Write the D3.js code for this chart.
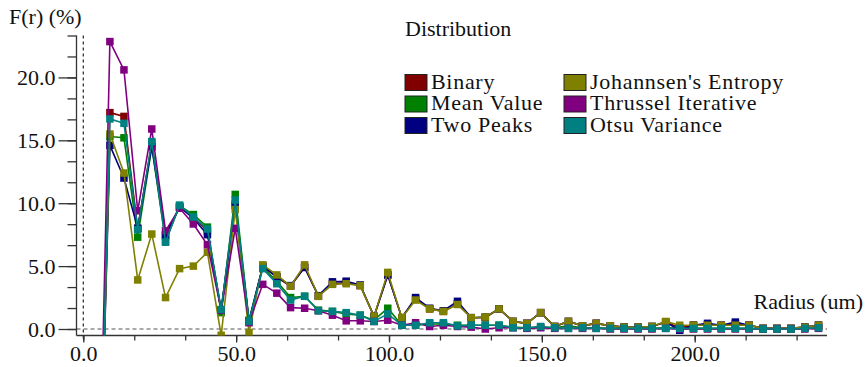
<!DOCTYPE html>
<html><head><meta charset="utf-8">
<script src="https://cdn.jsdelivr.net/npm/d3@7"></script>
<style>
html,body{margin:0;padding:0;background:#fff;}
svg{display:block;}
svg text{font-family:"Liberation Serif" !important;font-size:22px !important;}
</style></head>
<body>
<svg id="chart" width="866" height="367"></svg>
<script>
const radius = [4.2, 8.7, 13.3, 17.8, 22.4, 26.9, 31.5, 36.0, 40.6, 45.1, 49.7, 54.2, 58.7, 63.3, 67.8, 72.4, 76.9, 81.5, 86.0, 90.6, 95.1, 99.6, 104.2, 108.7, 113.3, 117.8, 122.4, 126.9, 131.5, 136.0, 140.6, 145.1, 149.6, 154.2, 158.7, 163.3, 167.8, 172.4, 176.9, 181.5, 186.0, 190.5, 195.1, 199.6, 204.2, 208.7, 213.3, 217.8, 222.4, 226.9, 231.5, 236.0, 240.5];

const binary = [-25, 17.2, 16.9, 8.0, 14.8, 7.4, 9.7, 8.9, 7.8, 1.5, 10.0, 0.6, 5.0, 4.1, 3.4, 4.9, 2.6, 3.6, 3.7, 3.45, 1.0, 4.3, 0.9, 2.4, 1.6, 1.4, 2.0, 0.9, 0.9, 1.6, 0.6, 0.45, 1.3, 0.2, 0.6, 0.25, 0.45, 0.25, 0.15, 0.15, 0.2, 0.55, 0.1, 0.3, 0.35, 0.3, 0.4, 0.3, 0.05, 0.05, 0.05, 0.15, 0.3];
const meanValue = [-25, 15.3, 15.2, 7.3, 14.5, 7.0, 9.8, 9.1, 8.1, 1.3, 10.7, 0.7, 4.9, 3.8, 2.5, 2.6, 1.5, 1.4, 1.2, 1.1, 0.7, 1.65, 0.3, 0.3, 0.4, 0.4, 0.3, 0.3, 0.3, 0.3, 0.15, 0.1, 0.15, 0.1, 0.25, 0.1, 0.1, 0.05, 0.05, 0.05, 0.05, 0.1, 0.05, 0.05, 0.05, 0.05, 0.05, 0.05, 0.0, 0.0, 0.0, 0.05, 0.1];
const twoPeaks = [-25, 14.6, 12.0, 8.0, 14.5, 7.5, 9.7, 8.8, 7.5, 1.5, 9.8, 0.6, 5.0, 4.15, 3.45, 4.9, 2.65, 3.75, 3.8, 3.5, 1.0, 4.3, 0.9, 2.5, 1.65, 1.45, 2.2, 0.9, 0.95, 1.6, 0.6, 0.45, 1.3, 0.2, 0.6, 0.25, 0.45, 0.25, 0.15, 0.15, 0.2, 0.55, -0.1, 0.3, 0.45, 0.3, 0.55, 0.3, 0.05, 0.05, 0.05, 0.15, 0.3];
const johannsen = [-25, 15.5, 12.4, 3.9, 7.55, 2.5, 4.8, 5.0, 6.1, -0.5, 9.5, -0.3, 5.1, 4.3, 3.4, 5.1, 2.6, 3.55, 3.6, 3.45, 1.0, 4.5, 0.9, 2.3, 1.6, 1.4, 1.95, 0.9, 0.95, 1.6, 0.6, 0.45, 1.3, 0.2, 0.6, 0.25, 0.45, 0.25, 0.15, 0.15, 0.2, 0.6, 0.3, 0.3, 0.3, 0.3, 0.3, 0.3, 0.05, 0.05, 0.05, 0.15, 0.3];
const thrussel = [-25, 22.85, 20.6, 9.4, 15.9, 7.8, 9.6, 8.35, 6.7, 1.5, 8.0, 0.5, 3.55, 2.85, 1.7, 1.65, 1.45, 1.1, 0.65, 0.65, 0.6, 0.7, 0.3, 0.5, 0.2, 0.3, 0.2, 0.15, 0.0, 0.1, 0.1, 0.05, 0.1, 0.05, 0.05, 0.05, 0.05, 0.0, 0.0, 0.0, 0.0, 0.05, 0.0, 0.0, 0.0, 0.0, 0.0, 0.0, 0.0, 0.0, 0.0, 0.0, 0.05];
const otsu = [-25, 16.7, 16.35, 7.9, 14.9, 6.9, 9.85, 8.9, 7.95, 1.55, 10.25, 0.6, 4.8, 3.6, 2.3, 2.6, 1.45, 1.4, 1.3, 1.1, 0.6, 1.2, 0.3, 0.3, 0.5, 0.5, 0.25, 0.3, 0.3, 0.3, 0.1, 0.1, 0.2, 0.1, 0.05, 0.1, 0.05, 0.05, 0.05, 0.05, 0.05, 0.05, 0.05, 0.05, 0.05, 0.05, 0.05, 0.05, 0.0, 0.0, 0.0, 0.05, 0.1];

const seriesNames = ["Binary", "Mean Value", "Two Peaks", "Johannsen's Entropy", "Thrussel Iterative", "Otsu Variance"];
const seriesValues = [binary, meanValue, twoPeaks, johannsen, thrussel, otsu];
const seriesColors = ["#800000", "#008000", "#000080", "#808000", "#800080", "#008080"];

const xMajorTicks = [0, 50, 100, 150, 200];
const yMajorTicks = [0, 5, 10, 15, 20];
const legendTitle = "Distribution";
const yTitle = "F(r) (%)";
const xTitle = "Radius (um)";

const FONT = '"Liberation Serif"';
const FS = 22;
const svg = d3.select("#chart");
const x = d3.scaleLinear().domain([0, 200]).range([83.3, 694.7]);
const y = d3.scaleLinear().domain([0, 70/3]).range([329, 35.5]);
const axisX = 76.5, axisY = 335.5, plotRight = 827;

svg.append("defs").append("clipPath").attr("id", "plot")
  .append("rect").attr("x", axisX).attr("y", 30).attr("width", plotRight - axisX).attr("height", axisY - 30);

const xMinor = d3.range(0, 240, 50/3);
const yMinor = d3.range(0, 70/3 + 0.01, 5/3);

// dashed zero lines
svg.append("line").attr("x1", x(0)).attr("x2", x(0)).attr("y1", y(70/3)).attr("y2", axisY + 3)
  .attr("stroke", "#222").attr("stroke-width", 1.2).attr("stroke-dasharray", "3,3");
svg.append("line").attr("x1", axisX).attr("x2", plotRight).attr("y1", y(0)).attr("y2", y(0))
  .attr("stroke", "#555").attr("stroke-width", 1.2).attr("stroke-dasharray", "4,3");

// y axis
const gyMinor = svg.append("g").attr("transform", `translate(${axisX},0)`)
  .call(d3.axisLeft(y).tickValues(yMinor).tickSize(9).tickFormat(""));
const gy = svg.append("g").attr("transform", `translate(${axisX},0)`)
  .call(d3.axisLeft(y).tickValues(yMajorTicks).tickSize(18).tickPadding(3).tickFormat(d3.format(".1f")));
gy.attr("font-family", null).attr("font-size", null);
gy.select(".domain").remove();
gyMinor.select(".domain").attr("d", `M0,${y(70/3)}V${axisY}`);
gy.selectAll("text").attr("dy", "0.33em");

// x axis
const gxMinor = svg.append("g").attr("transform", `translate(0,${axisY})`)
  .call(d3.axisBottom(x).tickValues(xMinor).tickSize(5).tickFormat(""));
gxMinor.select(".domain").attr("d", `M${axisX},0H${plotRight}`);
const gx = svg.append("g").attr("transform", `translate(0,${axisY})`)
  .call(d3.axisBottom(x).tickValues(xMajorTicks).tickSize(7).tickFormat(d3.format(".1f")));
gx.attr("font-family", null).attr("font-size", null);
gx.select(".domain").remove();
gx.selectAll("text").attr("y", 25).attr("dy", "0");

svg.selectAll(".tick line, .domain").attr("stroke", "#333").attr("stroke-width", 1.3);

// titles
svg.append("text").attr("x", 9).attr("y", 24).text(yTitle);
svg.append("text").attr("x", 863).attr("y", 309).attr("text-anchor", "end").text(xTitle);

// series
const plot = svg.append("g").attr("clip-path", "url(#plot)");
const line = d3.line().x((d, i) => x(radius[i])).y(d => y(d));
seriesValues.forEach((vals, s) => {
  const g = plot.append("g");
  g.append("path").datum(vals).attr("d", line).attr("fill", "none")
    .attr("stroke", seriesColors[s]).attr("stroke-width", 1.6);
  g.selectAll("rect").data(vals).join("rect")
    .attr("x", (d, i) => x(radius[i]) - 3.75).attr("y", d => y(d) - 3.75)
    .attr("width", 7.5).attr("height", 7.5).attr("fill", seriesColors[s]);
});

// legend
svg.append("text").attr("x", 405).attr("y", 36).text(legendTitle);
const legX = [405, 564], legY = [74.5, 96, 117.5];
seriesNames.forEach((name, i) => {
  const col = Math.floor(i / 3), row = i % 3;
  svg.append("rect").attr("x", legX[col]).attr("y", legY[row]).attr("width", 22).attr("height", 16)
    .attr("fill", seriesColors[i]).attr("stroke", "#222").attr("stroke-width", 1);
  svg.append("text").attr("x", legX[col] + 26).attr("y", legY[row] + 14)
    .attr("letter-spacing", 0.7).text(name);
});

svg.selectAll("text").attr("font-family", FONT).attr("font-size", FS).attr("fill", "#111");
</script>
</body></html>
